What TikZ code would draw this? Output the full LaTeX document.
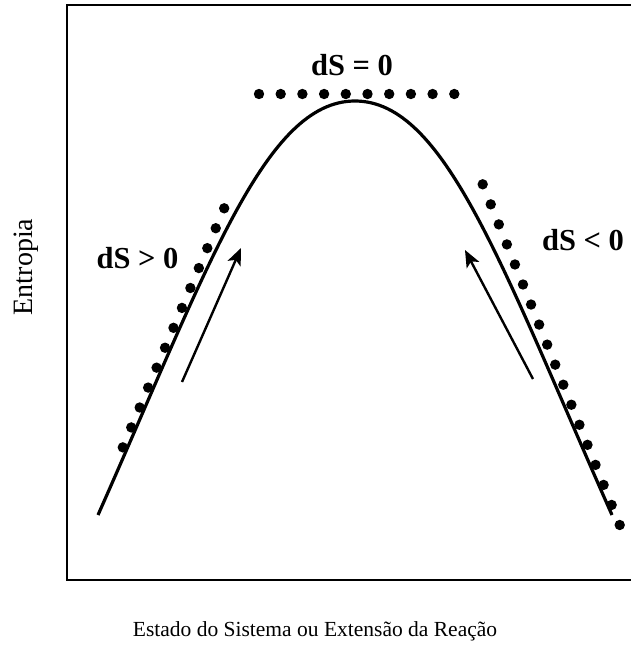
\documentclass[tikz,border=0pt]{standalone}
\usepackage{fontspec}
\setmainfont{Liberation Serif}
\usetikzlibrary{arrows.meta}
\begin{document}
\begin{tikzpicture}[x=1pt,y=-1pt,
  axis/.style={line width=2.5pt, line cap=rect},
  curve/.style={line width=3.2pt},
  flow/.style={line width=2.4pt, -{Stealth[length=17pt,width=14pt,inset=4pt]}},
  bead/.style={fill=black},
  lab/.style={font=\bfseries\fontsize{30.5}{33}\selectfont, anchor=base, inner sep=0pt},
  ylabst/.style={font=\fontsize{28}{30}\selectfont, inner sep=0pt},
  xlabst/.style={font=\fontsize{21.5}{26}\selectfont, inner sep=0pt}]
\useasboundingbox (0,0) rectangle (631,646);
% axes frame
\coordinate (tr) at (640,5);
\coordinate (tl) at (67,5);
\coordinate (bl) at (67,580);
\coordinate (br) at (640,580);
\draw[axis] (tr) -- (tl) -- (bl) -- (br);
% curve
\coordinate (start) at (98,515);
\coordinate (peak) at (355,101);
\coordinate (end) at (612,515);
\draw[curve] (start) .. controls (208,267) and (265,101) .. (peak)
  .. controls (445,101) and (502,267) .. (end);
% dotted lines
\foreach \i in {0,...,9} \fill[bead] ({259+21.7*\i},94) circle (5.2pt);
\foreach \i in {0,...,12} \fill[bead] ({224.2-8.45*\i},{208.3+19.92*\i}) circle (5.2pt);
\foreach \i in {0,...,17} \fill[bead] ({482.7+8.06*\i},{184.3+20.04*\i}) circle (5.2pt);
% arrows
\coordinate (la0) at (182,382);
\coordinate (la1) at (241,248);
\coordinate (ra0) at (533,379);
\coordinate (ra1) at (465,250);
\draw[flow] (la0) -- (la1);
\draw[flow] (ra0) -- (ra1);
% labels
\node[lab] (dszero) at (352,75) {dS = 0};
\node[lab] (dspos) at (137.5,268) {dS > 0};
\node[lab] (dsneg) at (583,250) {dS < 0};
\node[ylabst, rotate=90] (ylab) at (26,267) {Entropia};
\node[xlabst] (xlab) at (315,631) {Estado do Sistema ou Extensão da Reação};
\end{tikzpicture}
\end{document}
